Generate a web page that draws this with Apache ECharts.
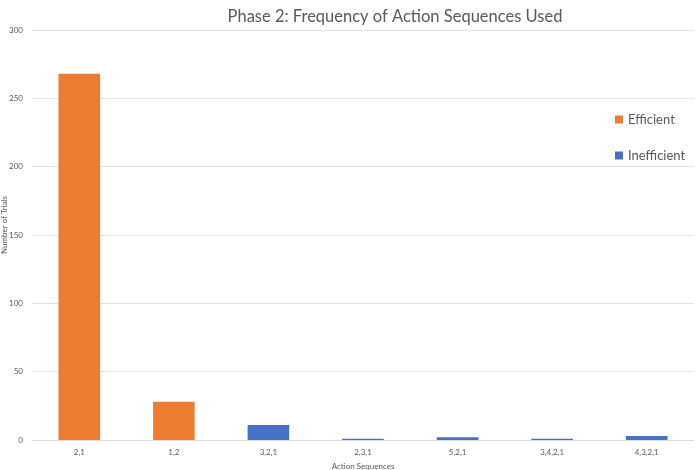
<!DOCTYPE html>
<html>
<head>
<meta charset="utf-8">
<script src="https://cdn.jsdelivr.net/npm/echarts@6/dist/echarts.min.js"></script>
<style>html,body{margin:0;padding:0;background:#fff;}#c{width:698px;height:470px;}</style>
</head>
<body>
<div id="c"></div>
<script>
const categories = ['2,1', '1,2', '3,2,1', '2,3,1', '5,2,1', '3,4,2,1', '4,3,2,1'];
const efficient = [268, 28, null, null, null, null, null];
const inefficient = [null, null, 11, 1, 2, 1, 3];
const yTicks = [0, 50, 100, 150, 200, 250, 300];

const chart = echarts.init(document.getElementById('c'));
const font = 'Lato, "Open Sans", sans-serif';
chart.setOption({
  animation: false,
  title: {
    text: 'Phase 2: Frequency of Action Sequences Used',
    left: 390, top: 3, textAlign: 'center',
    textStyle: { fontFamily: font, fontSize: 16.5, fontWeight: 'normal', color: '#595959' }
  },
  legend: {
    orient: 'vertical', left: 610, top: 108, itemGap: 23,
    itemWidth: 8, itemHeight: 8, icon: 'rect',
    textStyle: { fontFamily: font, fontSize: 13, color: '#595959' },
    data: ['Efficient', 'Inefficient']
  },
  grid: { left: 32, right: 4, top: 30, bottom: 30, containLabel: false, outerBoundsMode: 'none' },
  xAxis: {
    type: 'category', data: categories,
    name: 'Action Sequences', nameLocation: 'middle', nameGap: 22, nameMoveOverlap: false,
    nameTextStyle: { fontFamily: font, fontSize: 8, color: '#595959' },
    axisLine: { lineStyle: { color: '#d9d9d9' } },
    axisTick: { show: false },
    axisLabel: { fontFamily: font, fontSize: 8, color: '#595959', margin: 8 }
  },
  yAxis: {
    type: 'value', min: yTicks[0], max: yTicks[yTicks.length - 1], interval: 50,
    name: 'Number of Trials', nameLocation: 'middle', nameGap: 24, nameMoveOverlap: false,
    nameTextStyle: { fontFamily: font, fontSize: 8, color: '#595959', padding: [0, 0, 0, 20] },
    axisLine: { show: false }, axisTick: { show: false },
    axisLabel: { fontFamily: font, fontSize: 8, color: '#595959', margin: 9 },
    splitLine: { lineStyle: { color: '#e3e3e3' } }
  },
  series: [
    { name: 'Efficient', type: 'bar', stack: 's', data: efficient, barWidth: '44%', itemStyle: { color: '#ed7d31' } },
    { name: 'Inefficient', type: 'bar', stack: 's', data: inefficient, barWidth: '44%', itemStyle: { color: '#4472c4' } }
  ]
});
</script>
</body>
</html>
